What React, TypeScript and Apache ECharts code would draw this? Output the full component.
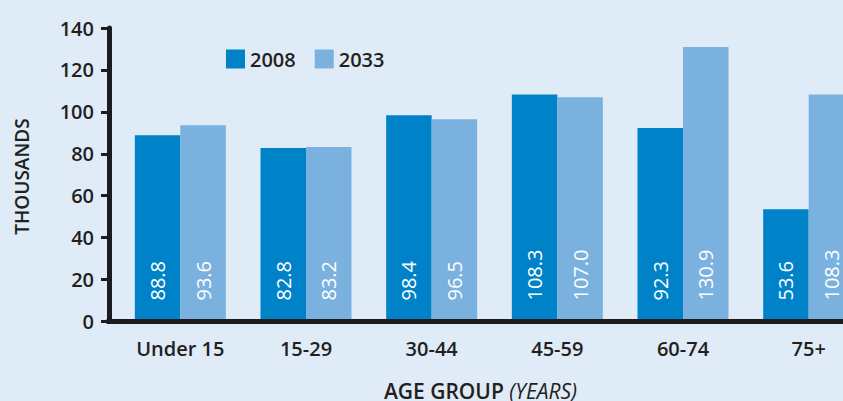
import React, { useEffect, useRef } from "react";
import * as echarts from "echarts";

const categories = ["Under 15", "15-29", "30-44", "45-59", "60-74", "75+"];
const values2008 = [88.8, 82.8, 98.4, 108.3, 92.3, 53.6];
const values2033 = [93.6, 83.2, 96.5, 107.0, 130.9, 108.3];
const seriesNames = ["2008", "2033"];
const yMin = 0;
const yMax = 140;
const yInterval = 20;
const yAxisTitle = "THOUSANDS";
const xAxisTitleMain = "AGE GROUP ";
const xAxisTitleSub = "(YEARS)";

const FONT = "'Open Sans', 'Noto Sans', sans-serif";
const BG = "#dfebf7";
const C2008 = "#0082c8";
const C2033 = "#7ab1de";
const AXIS = "#1c1b20";
const TEXT = "#231f20";

export default function App() {
  const ref = useRef<HTMLDivElement>(null);
  useEffect(() => {
    if (!ref.current) return;
    const chart = echarts.init(ref.current, undefined, { renderer: "svg" });
    const labelCfg = {
      show: true,
      position: "insideBottom",
      rotate: 90,
      align: "left",
      verticalAlign: "middle",
      distance: 21,
      color: "#ffffff",
      fontSize: 20,
      fontFamily: FONT,
      fontWeight: "normal",
      formatter: (p: any) => Number(p.value).toFixed(1),
    };
    chart.setOption({
      animation: false,
      backgroundColor: BG,
      textStyle: { fontFamily: FONT },
      grid: {
        left: 117.5,
        right: -28.5,
        top: 28,
        bottom: 79.5,
        containLabel: false,
        outerBoundsMode: "none",
      },
      legend: {
        left: 226,
        top: 49,
        padding: 0,
        icon: "rect",
        itemWidth: 19,
        itemHeight: 19,
        itemGap: 19,
        textStyle: {
          fontSize: 20,
          fontWeight: 600,
          color: TEXT,
          fontFamily: FONT,
          padding: [0, 0, 0, 0],
        },
        data: seriesNames,
      },
      xAxis: {
        type: "category",
        data: categories,
        z: 10,
        axisLine: { show: true, lineStyle: { color: AXIS, width: 5 } },
        axisTick: { show: false },
        axisLabel: {
          color: TEXT,
          fontSize: 20,
          fontWeight: 600,
          fontFamily: FONT,
          margin: 17,
        },
        splitLine: { show: false },
      },
      yAxis: {
        type: "value",
        min: yMin,
        max: yMax,
        interval: yInterval,
        offset: 8.5,
        z: 10,
        axisLine: { show: true, lineStyle: { color: AXIS, width: 5 } },
        axisTick: { show: true, length: 8, lineStyle: { color: AXIS, width: 3 } },
        axisLabel: {
          color: TEXT,
          fontSize: 20,
          fontWeight: 600,
          fontFamily: FONT,
          margin: 15,
        },
        splitLine: { show: false },
      },
      series: [
        {
          name: seriesNames[0],
          type: "bar",
          data: values2008,
          barWidth: 45.5,
          barGap: "0%",
          itemStyle: { color: C2008 },
          label: labelCfg,
        },
        {
          name: seriesNames[1],
          type: "bar",
          data: values2033,
          barWidth: 45.5,
          barGap: "0%",
          itemStyle: { color: C2033 },
          label: labelCfg,
        },
      ],
      graphic: [
        {
          type: "rect",
          z: 100,
          shape: { x: 106.5, y: 319, width: 14, height: 5 },
          style: { fill: AXIS },
        },
        {
          type: "text",
          x: 22,
          y: 176.5,
          rotation: Math.PI / 2,
          style: {
            text: yAxisTitle,
            fill: TEXT,
            fontSize: 19,
            fontWeight: 600,
            fontFamily: FONT,
            align: "center",
            verticalAlign: "middle",
          },
        },
        {
          type: "text",
          x: 480.5,
          y: 390.5,
          style: {
            rich: {
              a: { fontSize: 21, fontWeight: 600, fontFamily: FONT, fill: TEXT, color: TEXT },
              b: { fontSize: 21, fontStyle: "italic", fontWeight: "normal", fontFamily: FONT, fill: TEXT, color: TEXT },
            },
            text: `{a|${xAxisTitleMain}}{b|${xAxisTitleSub}}`,
            align: "center",
            verticalAlign: "middle",
          },
        },
      ],
    });
    return () => chart.dispose();
  }, []);
  return (
    <div
      ref={ref}
      style={{ position: "absolute", left: 0, top: 0, width: 843, height: 401 }}
    />
  );
}
